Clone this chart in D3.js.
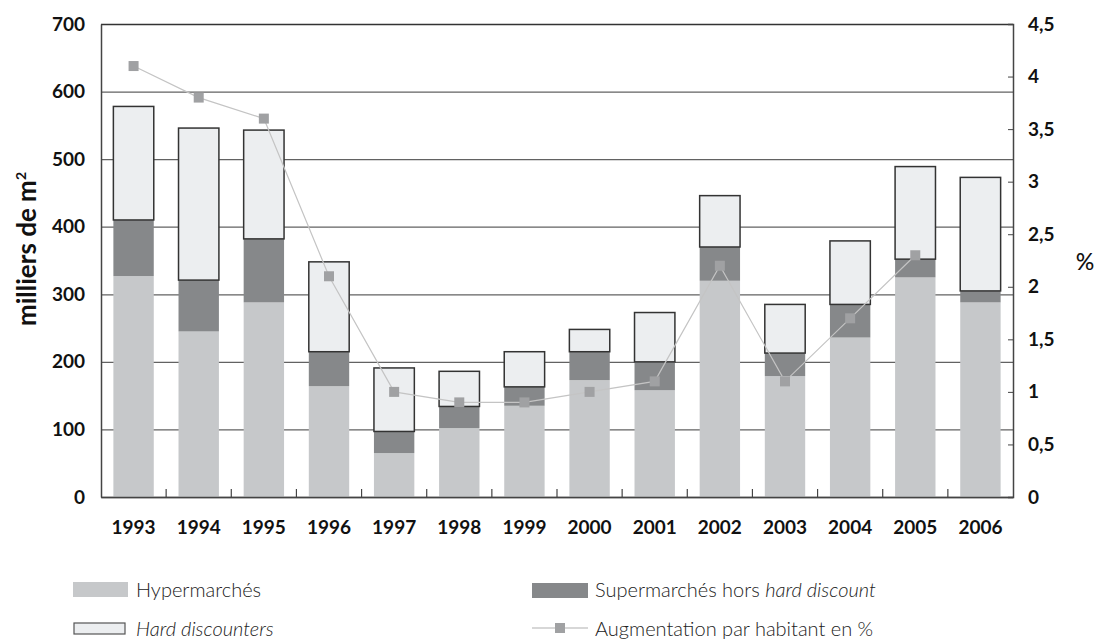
<!DOCTYPE html>
<html lang="fr">
	<head>
		<meta charset="utf-8">
		<script src="https://d3js.org/d3.v7.min.js"></script>
		<style>
			body { margin: 0; background: #fff; }
			text { font-family: Lato, "Open Sans", sans-serif; }
		</style>
	</head>
	<body>
		<script type="text/javascript">

			// data (milliers de m2, and % per inhabitant)
			var years = ["1993","1994","1995","1996","1997","1998","1999","2000","2001","2002","2003","2004","2005","2006"];
			var hyper = [327, 245, 288, 164, 65, 102, 135, 173, 158, 320, 179, 236, 325, 288];
			var superm = [83, 76, 94, 51, 32, 32, 28, 42, 42, 50, 34, 49, 27, 17];
			var hardDisc = [168, 225, 161, 133, 94, 52, 52, 33, 73, 76, 72, 94, 137, 168];
			var pct = [4.1, 3.8, 3.6, 2.1, 1.0, 0.9, 0.9, 1.0, 1.1, 2.2, 1.1, 1.7, 2.3, null];
			var leftTicks = [0, 100, 200, 300, 400, 500, 600, 700];
			var rightTicks = [0, 0.5, 1, 1.5, 2, 2.5, 3, 3.5, 4, 4.5];

			var w = 1097;
			var h = 641;
			var pLeft = 101, pRight = 1013, pTop = 24, pBottom = 497;

			var svg = d3.select("body")
						.append("svg")
						.attr("width", w)
						.attr("height", h);

			var x = d3.scaleBand()
					  .domain(years)
					  .range([pLeft, pRight])
					  .paddingInner(0.38)
					  .paddingOuter(0.19);

			var y = d3.scaleLinear()
					  .domain([0, 700])
					  .range([pBottom, pTop]);

			var y2 = d3.scaleLinear()
					   .domain([0, 4.5])
					   .range([pBottom, pTop]);

			//Gridlines
			var grid = svg.append("g")
						  .attr("transform", "translate(" + pLeft + ",0)")
						  .call(d3.axisLeft(y).tickValues(leftTicks).tickSize(-(pRight - pLeft)).tickFormat(""));
			grid.select(".domain").remove();
			grid.selectAll("line")
				.attr("stroke", function(d) { return d == 700 ? "#333" : "#626262"; })
				.attr("stroke-width", function(d) { return d == 700 ? 1.6 : 1.3; });

			//Stacked bars
			var rows = years.map(function(yr, i) {
				return { year: yr, hyper: hyper[i], superm: superm[i], hard: hardDisc[i] };
			});
			var stack = d3.stack().keys(["hyper", "superm", "hard"])(rows);
			var fills = { hyper: "#c6c8ca", superm: "#86888a", hard: "#eceef0" };

			stack.forEach(function(layer) {
				svg.append("g")
				   .selectAll("rect")
				   .data(layer)
				   .enter()
				   .append("rect")
				   .attr("x", function(d) { return x(d.data.year); })
				   .attr("y", function(d) { return y(d[1]); })
				   .attr("width", x.bandwidth())
				   .attr("height", function(d) { return y(d[0]) - y(d[1]); })
				   .attr("fill", fills[layer.key])
				   .attr("stroke", layer.key == "hard" ? "#333" : "none")
				   .attr("stroke-width", 1.5);
			});

			//Left axis
			var la = svg.append("g")
						.attr("transform", "translate(" + pLeft + ",0)")
						.call(d3.axisLeft(y).tickValues(leftTicks).tickSize(0).tickPadding(16));
			la.select(".domain").attr("stroke", "#444").attr("stroke-width", 1.5);
			la.selectAll("text")
			  .style("font-size", "19px")
			  .style("font-weight", "bold")
			  .attr("fill", "#111");

			//Right axis
			var ra = svg.append("g")
						.attr("transform", "translate(" + pRight + ",0)")
						.call(d3.axisRight(y2).tickValues(rightTicks).tickSize(-5).tickPadding(15)
								.tickFormat(function(d) { return String(d).replace(".", ","); }));
			ra.select(".domain").attr("stroke", "#444").attr("stroke-width", 1.5);
			ra.selectAll("line").attr("stroke", "#444");
			ra.selectAll("text")
			  .style("font-size", "19px")
			  .style("font-weight", "bold")
			  .attr("fill", "#111");

			//Bottom axis
			var ba = svg.append("g")
						.attr("transform", "translate(0," + pBottom + ")")
						.call(d3.axisBottom(x).tickSize(0).tickPadding(24));
			ba.select(".domain").attr("stroke", "#444").attr("stroke-width", 1.5);
			ba.selectAll("text")
			  .style("font-size", "19px")
			  .style("font-weight", "bold")
			  .attr("fill", "#111");

			// small upward ticks between categories
			svg.append("g")
			   .selectAll("line")
			   .data(years.slice(1))
			   .enter()
			   .append("line")
			   .attr("x1", function(d) { return x(d) - x.step() * x.paddingInner() / 2; })
			   .attr("x2", function(d) { return x(d) - x.step() * x.paddingInner() / 2; })
			   .attr("y1", pBottom)
			   .attr("y2", pBottom - 8)
			   .attr("stroke", "#444")
			   .attr("stroke-width", 1.2);

			//Percentage line
			var line = d3.line()
						 .defined(function(d) { return d != null; })
						 .x(function(d, i) { return x(years[i]) + x.bandwidth() / 2; })
						 .y(function(d) { return y2(d); });

			svg.append("path")
			   .datum(pct)
			   .attr("d", line)
			   .attr("fill", "none")
			   .attr("stroke", "#c4c4c4")
			   .attr("stroke-width", 1.2);

			svg.append("g")
			   .selectAll("rect")
			   .data(pct.map(function(v, i) { return { year: years[i], v: v }; }).filter(function(d) { return d.v != null; }))
			   .enter()
			   .append("rect")
			   .attr("x", function(d) { return x(d.year) + x.bandwidth() / 2 - 5; })
			   .attr("y", function(d) { return y2(d.v) - 5; })
			   .attr("width", 10)
			   .attr("height", 10)
			   .attr("fill", "#a0a1a3");

			//Axis titles
			var yt = svg.append("text")
						.attr("transform", "translate(36,249) rotate(-90)")
						.attr("text-anchor", "middle")
						.style("font-size", "26px")
						.style("font-weight", "bold")
						.attr("fill", "#111");
			yt.append("tspan").text("milliers de m");
			yt.append("tspan").attr("dy", -10).style("font-size", "14px").text("2");

			svg.append("text")
			   .attr("x", 1085)
			   .attr("y", 270)
			   .attr("text-anchor", "middle")
			   .style("font-size", "23px")
			   .style("font-weight", "500")
			   .attr("fill", "#111")
			   .text("%");

			//Legend
			var lg = svg.append("g").style("font-size", "20px").style("font-weight", "300").attr("fill", "#222");

			lg.append("rect").attr("x", 73).attr("y", 582).attr("width", 55).attr("height", 15).attr("fill", fills.hyper);
			lg.append("text").attr("x", 136).attr("y", 597).text("Hypermarchés");

			lg.append("rect").attr("x", 74).attr("y", 623).attr("width", 51).attr("height", 11)
			  .attr("fill", fills.hard).attr("stroke", "#555").attr("stroke-width", 1.2);
			lg.append("text").attr("x", 136).attr("y", 636).style("font-style", "italic").text("Hard discounters");

			lg.append("rect").attr("x", 532).attr("y", 583).attr("width", 56).attr("height", 15).attr("fill", fills.superm);
			var st = lg.append("text").attr("x", 595).attr("y", 597);
			st.append("tspan").text("Supermarchés hors ");
			st.append("tspan").style("font-style", "italic").text("hard discount");

			lg.append("line").attr("x1", 532).attr("x2", 588).attr("y1", 628).attr("y2", 628)
			  .attr("stroke", "#b0b0b0").attr("stroke-width", 1.2);
			lg.append("rect").attr("x", 555).attr("y", 623).attr("width", 10).attr("height", 10).attr("fill", "#a0a1a3");
			lg.append("text").attr("x", 595).attr("y", 636).text("Augmentation par habitant en %");

		</script>
	</body>
</html>
